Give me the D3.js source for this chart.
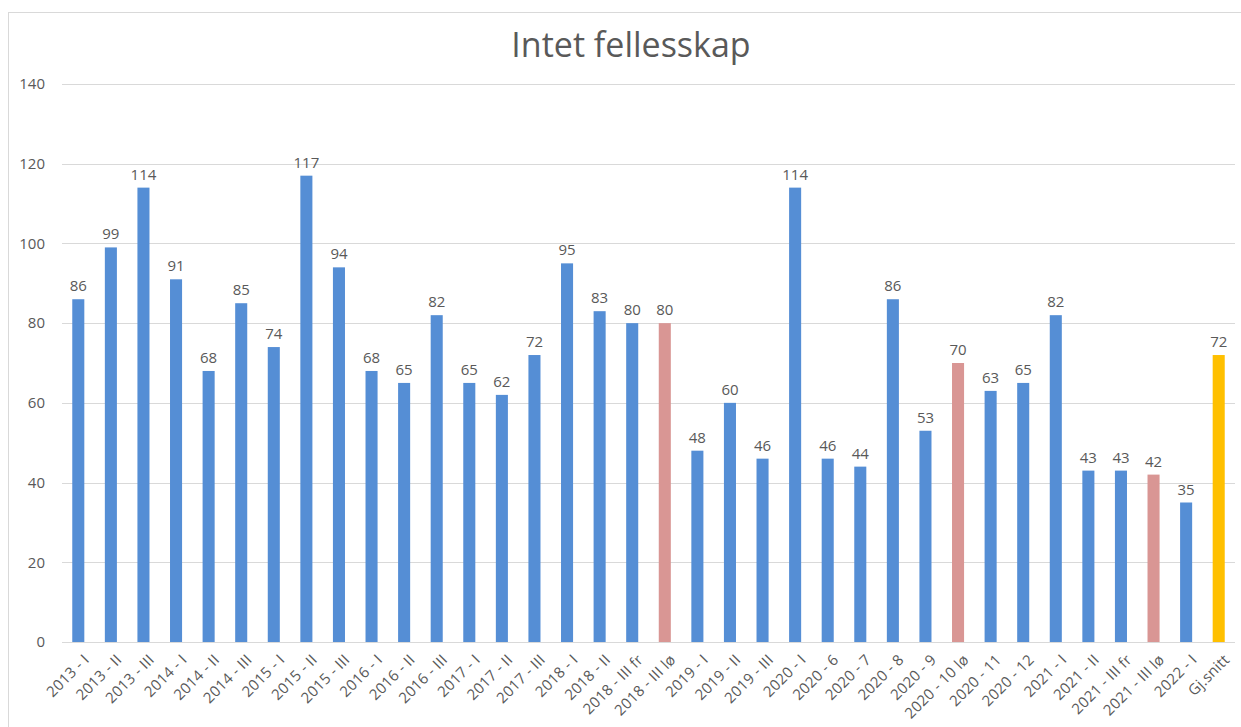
<!DOCTYPE html>
<html>
<head>
<meta charset="utf-8">
<script src="https://cdn.jsdelivr.net/npm/d3@7"></script>
<style>
  body { margin: 0; background: #fff; }
  text { font-family: "Open Sans", "Noto Sans", sans-serif; fill: #595959; }
</style>
</head>
<body>
<div id="graph"></div>
<script>
'use strict';

const categories = ['2013 - I', '2013 - II', '2013 - III', '2014 - I', '2014 - II', '2014 - III',
    '2015 - I', '2015 - II', '2015 - III', '2016 - I', '2016 - II', '2016 - III',
    '2017 - I', '2017 - II', '2017 - III', '2018 - I', '2018 - II', '2018 - III fr', '2018 - III lø',
    '2019 - I', '2019 - II', '2019 - III', '2020 - I', '2020 - 6', '2020 - 7', '2020 - 8', '2020 - 9',
    '2020 - 10 lø', '2020 - 11', '2020 - 12', '2021 - I', '2021 - II', '2021 - III fr', '2021 - III lø',
    '2022 - I', 'Gj.snitt'];
const values = [86, 99, 114, 91, 68, 85, 74, 117, 94, 68, 65, 82, 65, 62, 72, 95, 83, 80, 80,
    48, 60, 46, 114, 46, 44, 86, 53, 70, 63, 65, 82, 43, 43, 42, 35, 72];
// bar kinds: normal, "lø" (pink), average (yellow)
const kinds = categories.map(c => c.endsWith('lø') ? 'lo' : (c === 'Gj.snitt' ? 'avg' : 'std'));
const yTicks = [0, 20, 40, 60, 80, 100, 120, 140];

const colors = { std: '#558ED5', lo: '#D99694', avg: '#FFC000' };

const measurements = { width: 1241, height: 727 };
const plot = { left: 62, right: 1235, top: 84, bottom: 642 };

let svg = d3.select('#graph')
    .append('svg')
    .attr('width', measurements.width)
    .attr('height', measurements.height);

// outer chart frame
svg.append('rect')
    .attr('x', 8.5).attr('y', 12.5)
    .attr('width', 1240).attr('height', 720)
    .attr('fill', 'none')
    .attr('stroke', '#d9d9d9');

let x = d3.scaleBand()
    .domain(categories)
    .range([plot.left, plot.right])
    .paddingInner(0.63)
    .paddingOuter(0.315);

let y = d3.scaleLinear()
    .domain([0, 140])
    .range([plot.bottom, plot.top]);

// gridlines
svg.append('g')
    .selectAll('line')
    .data(yTicks)
    .enter()
    .append('line')
    .attr('x1', plot.left).attr('x2', plot.right)
    .attr('y1', d => Math.round(y(d)) + 0.5)
    .attr('y2', d => Math.round(y(d)) + 0.5)
    .attr('stroke', '#d9d9d9');

// y axis labels
let yAxis = d3.axisLeft(y).tickValues(yTicks).tickSize(0).tickPadding(0);
let gy = svg.append('g')
    .attr('transform', 'translate(45, 0)')
    .call(yAxis);
gy.select('.domain').remove();
gy.selectAll('text')
    .style('font-size', '15px')
    .attr('fill', '#595959');

// bars
svg.append('g')
    .selectAll('rect')
    .data(values)
    .enter()
    .append('rect')
    .attr('x', (d, i) => x(categories[i]))
    .attr('y', d => y(d))
    .attr('width', x.bandwidth())
    .attr('height', d => y(0) - y(d))
    .attr('fill', (d, i) => colors[kinds[i]]);

// value labels
svg.append('g')
    .selectAll('text')
    .data(values)
    .enter()
    .append('text')
    .attr('x', (d, i) => x(categories[i]) + x.bandwidth() / 2)
    .attr('y', d => y(d) - 8)
    .attr('text-anchor', 'middle')
    .style('font-size', '15px')
    .text(d => d);

// x axis labels (rotated)
let xAxis = d3.axisBottom(x).tickSize(0).tickPadding(0);
let gx = svg.append('g')
    .attr('transform', 'translate(0, ' + plot.bottom + ')')
    .call(xAxis);
gx.select('.domain').remove();
gx.selectAll('text')
    .attr('text-anchor', 'end')
    .attr('dy', '0.35em')
    .attr('transform', 'translate(8, 15) rotate(-45)')
    .attr('fill', '#595959')
    .style('font-size', '15px')
    .style('letter-spacing', '0.2px');

// title
svg.append('text')
    .attr('x', 631)
    .attr('y', 57)
    .attr('text-anchor', 'middle')
    .style('font-size', '34px')
    .text('Intet fellesskap');
</script>
</body>
</html>
